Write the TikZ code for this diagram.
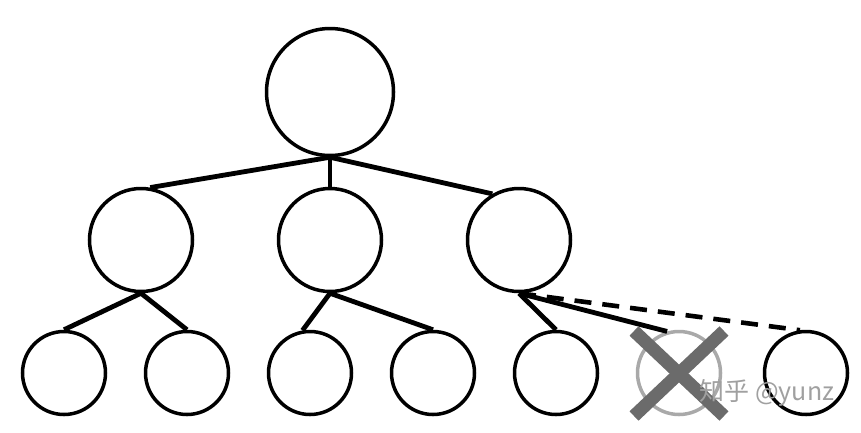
\documentclass[tikz,border=0pt]{standalone}
\usepackage{fontspec}
\newfontfamily\cjkfont{Noto Sans CJK SC}
\usepackage{tikz}
\definecolor{crossGray}{HTML}{6B6B6B}
\definecolor{ghostGray}{HTML}{A9A9A9}
\definecolor{markGray}{HTML}{A0A0A0}

\begin{document}
\begin{tikzpicture}[x=1pt, y=-1pt,
    rootNode/.style={circle, draw, line width=3.5pt, minimum size=127pt, inner sep=0pt},
    midNode/.style={circle, draw, line width=3.5pt, minimum size=103pt, inner sep=0pt},
    leafNode/.style={circle, draw, line width=3.5pt, minimum size=83pt, inner sep=0pt},
    treeEdge/.style={line width=4.8pt},
    dropEdge/.style={line width=4.6pt, dash pattern=on 17pt off 11pt}]
    \useasboundingbox (0,0) rectangle (861,432);

    \node[rootNode] (root) at (330,92) {};

    \node[midNode] (midA) at (141,240) {};
    \node[midNode] (midB) at (330,240) {};
    \node[midNode] (midC) at (519,240) {};

    \node[leafNode] (leafA) at (64,373) {};
    \node[leafNode] (leafB) at (187,373) {};
    \node[leafNode] (leafC) at (310,373) {};
    \node[leafNode] (leafD) at (433,373) {};
    \node[leafNode] (leafE) at (556,373) {};
    \node[leafNode, draw=ghostGray] (leafF) at (679,373) {};
    \node[leafNode] (leafG) at (806,373) {};

    \draw[treeEdge] (root.south) -- (midA.80);
    \draw[treeEdge] (root.south) -- (midB.north);
    \draw[treeEdge] (root.south) -- (midC.120);

    \draw[treeEdge] (midA.south) -- (leafA.north);
    \draw[treeEdge] (midA.south) -- (leafB.north);
    \draw[treeEdge] (midB.south) -- (leafC.100);
    \draw[treeEdge] (midB.south) -- (leafD.north);
    \draw[treeEdge] (midC.south) -- (leafE.north);
    \draw[treeEdge] (midC.south) -- (leafF.106);
    \draw[dropEdge] (midC.south) -- (leafG.98);

    % removed child
    \draw[crossGray, line width=13pt] (leafF.center) ++(-45,-42) -- ++(90,85);
    \draw[crossGray, line width=13pt] (leafF.center) ++(45,-42) -- ++(-90,85);

    \node[markGray, font=\cjkfont\fontsize{25}{25}\selectfont] (mark) at (767,393) {知乎 @yunz};
\end{tikzpicture}
\end{document}
